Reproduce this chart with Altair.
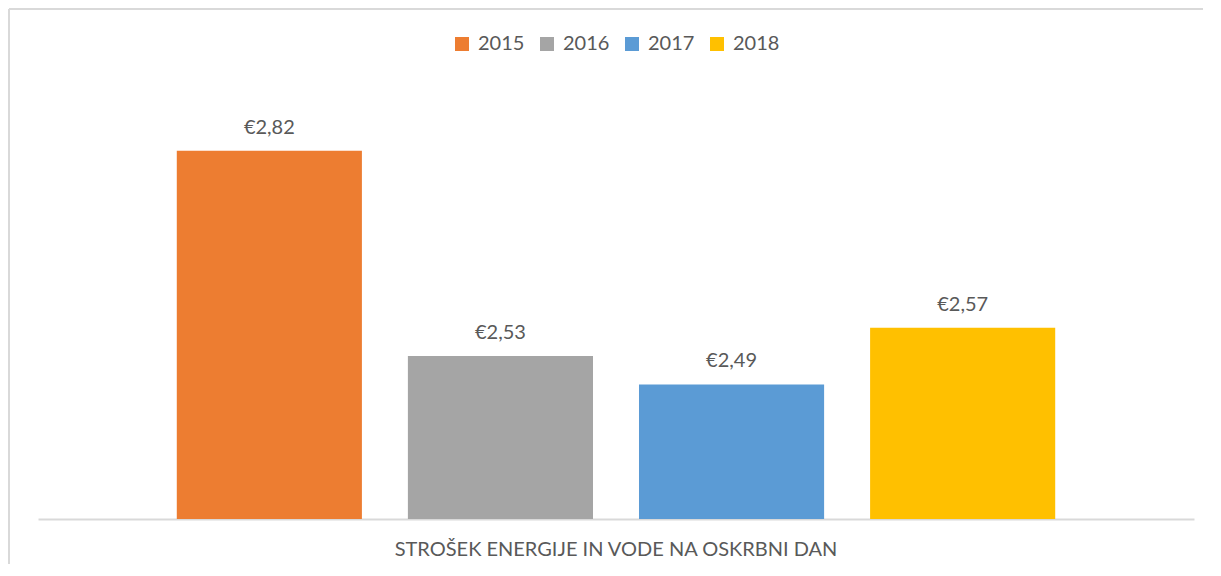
import altair as alt
import pandas as pd

category = "STROŠEK ENERGIJE IN VODE NA OSKRBNI DAN"
years = ["2015", "2016", "2017", "2018"]
values = [2.82, 2.53, 2.49, 2.57]
colors = ["#ED7D31", "#A5A5A5", "#5B9BD5", "#FFC000"]
axis_min, axis_max = 2.3, 2.9

df = pd.DataFrame({
    "cat": [category] * len(years),
    "year": years,
    "value": values,
    "label": ["€" + f"{v:.2f}".replace(".", ",") for v in values],
})

FONT = "Lato"
TXT = "#595959"

x = alt.X("cat:N", title=None,
          scale=alt.Scale(paddingInner=0, paddingOuter=0.158),
          axis=alt.Axis(labelAngle=0, labelFontSize=20, labelColor=TXT, labelFont=FONT,
                        labelLimit=0, labelPadding=20, ticks=False,
                        domainColor="#D9D9D9", domainWidth=2))
xoff = alt.XOffset("year:N", scale=alt.Scale(paddingInner=0.199, paddingOuter=0))
y = alt.Y("value:Q", scale=alt.Scale(domain=[axis_min, axis_max], zero=False), axis=None)

bars = alt.Chart(df).mark_bar().encode(
    x=x, xOffset=xoff, y=y, y2=alt.datum(axis_min),
    color=alt.Color("year:N", scale=alt.Scale(domain=years, range=colors),
                    legend=alt.Legend(title=None, orient="none", direction="horizontal",
                                      legendX=414, legendY=-60,
                                      symbolType="square", symbolSize=196, symbolStrokeWidth=0,
                                      labelFontSize=20, labelFont=FONT, labelColor=TXT,
                                      columnPadding=12, labelOffset=6)),
)

text = alt.Chart(df).mark_text(baseline="bottom", dy=-13, fontSize=20, font=FONT, color=TXT).encode(
    x=x, xOffset=xoff, y=y, text="label:N"
)

frame_left = alt.Chart(df).mark_rule(color="#D9D9D9", strokeWidth=2).encode(
    x=alt.value(-29), y=alt.value(-85), y2=alt.value(470)
)
frame_top = alt.Chart(df).mark_rule(color="#D9D9D9", strokeWidth=2).encode(
    x=alt.value(-29), x2=alt.value(1165), y=alt.value(-85)
)

chart = alt.layer(frame_left, frame_top, bars, text).properties(
    width=1156, height=425,
    padding={"left": 0, "top": 0, "right": 0, "bottom": 0},
).configure_view(stroke=None)

chart.save("out.html", embed_options={"renderer": "svg", "actions": False})
